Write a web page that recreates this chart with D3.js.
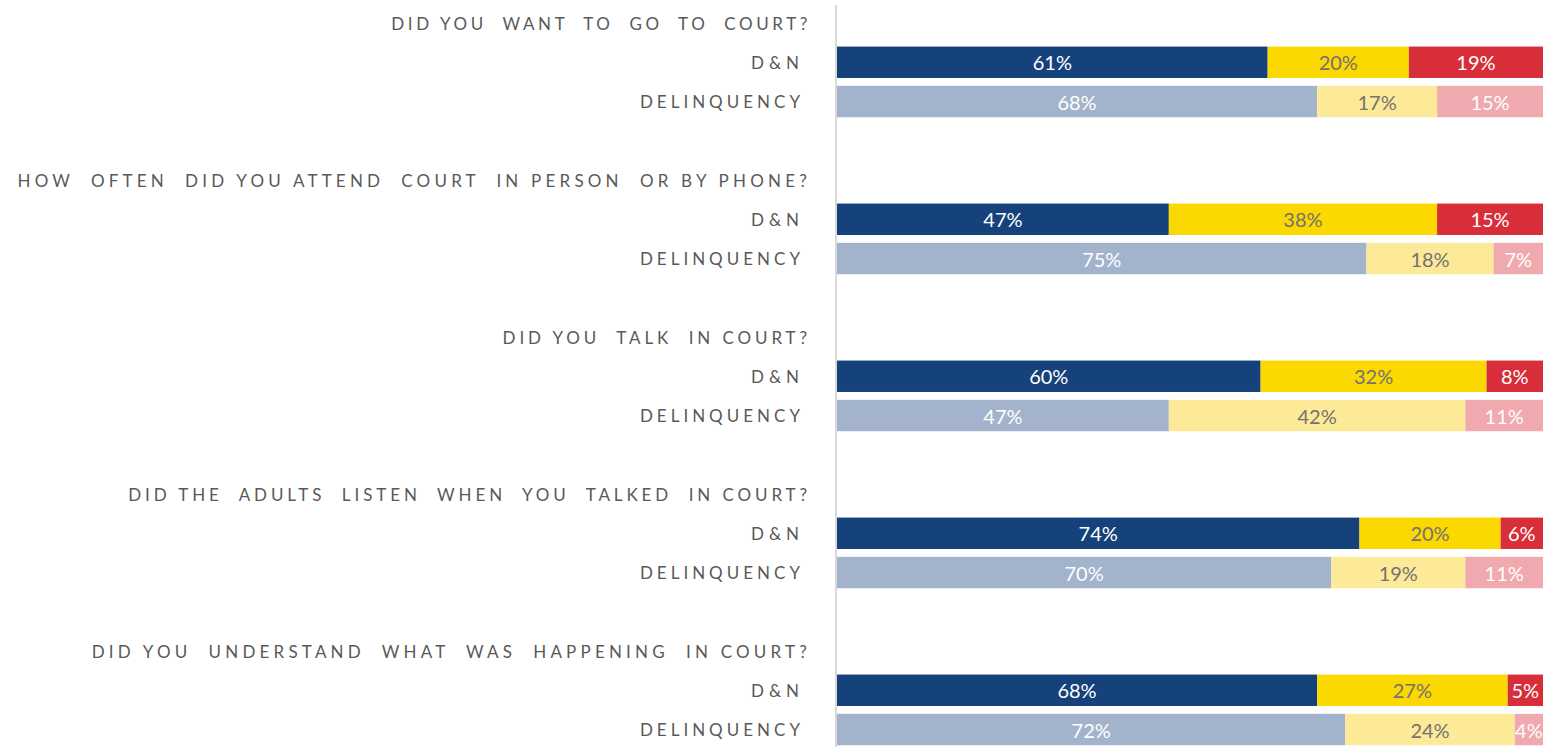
<!DOCTYPE html>
<html>
<head>
<meta charset="utf-8">
<script src="https://cdn.jsdelivr.net/npm/d3@7"></script>
<style>
  body { margin: 0; background: #fff; }
  svg { display: block; }
</style>
</head>
<body>
<div id="chart"></div>
<script>
const questions = [
  "DID YOU  WANT  TO  GO  TO  COURT?",
  "HOW  OFTEN  DID YOU ATTEND  COURT  IN PERSON  OR BY PHONE?",
  "DID YOU  TALK  IN COURT?",
  "DID THE  ADULTS  LISTEN  WHEN  YOU  TALKED  IN COURT?",
  "DID YOU  UNDERSTAND  WHAT  WAS  HAPPENING  IN COURT?"
];
const groups = ["D&N", "DELINQUENCY"];
// [first, second, third] shares per question
const dnValues = [[61, 20, 19], [47, 38, 15], [60, 32, 8], [74, 20, 6], [68, 27, 5]];
const delValues = [[68, 17, 15], [75, 18, 7], [47, 42, 11], [70, 19, 11], [72, 24, 4]];

const dnColors = ["#15427a", "#fad800", "#d82e3a"];
const delColors = ["#a2b3cb", "#fcea98", "#f0a9ae"];
const dnText = ["#ffffff", "#767171", "#ffffff"];
const delText = ["#ffffff", "#767171", "#ffffff"];

// letter spacing used for each question label, and for the two group labels
const questionSpacing = [3.6, 4.2, 3.9, 3.9, 4.2];
const groupSpacing = [5, 4];

const width = 1546, height = 747;
const left = 837, right = 1543;

const svg = d3.select("#chart").append("svg")
  .attr("width", width).attr("height", height);

// one row for the question, two for the bars, one blank
const rows = [];
questions.forEach((q, i) => {
  rows.push("q" + i, "dn" + i, "del" + i);
  if (i < questions.length - 1) rows.push("gap" + i);
});

const y = d3.scaleBand().domain(rows).range([3.4, 3.4 + 39.25 * rows.length]).paddingInner(0.2).paddingOuter(0.1);
const x = d3.scaleLinear().domain([0, 100]).range([left, right]);

const labelFont = "Lato, 'Open Sans', sans-serif";

// axis line
svg.append("line")
  .attr("x1", left - 1).attr("x2", left - 1)
  .attr("y1", 5).attr("y2", height)
  .attr("stroke", "#d9d9d9").attr("stroke-width", 2);

questions.forEach((q, i) => {
  svg.append("text")
    .attr("x", 811).attr("y", y("q" + i) + y.bandwidth() / 2)
    .attr("text-anchor", "end").attr("dominant-baseline", "central")
    .attr("font-family", labelFont).attr("font-size", 17)
    .attr("letter-spacing", questionSpacing[i]).attr("fill", "#595959")
    .style("white-space", "pre")
    .text(q);

  [["dn", dnValues[i], dnColors, dnText, 0], ["del", delValues[i], delColors, delText, 1]].forEach(([key, vals, cols, txt, gi]) => {
    const row = key + i;
    svg.append("text")
      .attr("x", 804).attr("y", y(row) + y.bandwidth() / 2)
      .attr("text-anchor", "end").attr("dominant-baseline", "central")
      .attr("font-family", labelFont).attr("font-size", 17)
      .attr("letter-spacing", groupSpacing[gi]).attr("fill", "#595959")
      .text(groups[gi]);

    let acc = 0;
    const segs = vals.map((v, j) => { const s = { v, j, start: acc }; acc += v; return s; });
    const g = svg.append("g");
    g.selectAll("rect").data(segs).enter().append("rect")
      .attr("x", d => x(d.start))
      .attr("y", y(row))
      .attr("width", d => x(d.start + d.v) - x(d.start))
      .attr("height", y.bandwidth())
      .attr("fill", d => cols[d.j]);
    g.selectAll("text").data(segs).enter().append("text")
      .attr("x", d => (x(d.start) + x(d.start + d.v)) / 2)
      .attr("y", y(row) + y.bandwidth() / 2)
      .attr("text-anchor", "middle").attr("dominant-baseline", "central")
      .attr("font-family", labelFont).attr("font-size", 20)
      .attr("fill", d => txt[d.j])
      .text(d => d.v + "%");
  });
});
</script>
</body>
</html>
